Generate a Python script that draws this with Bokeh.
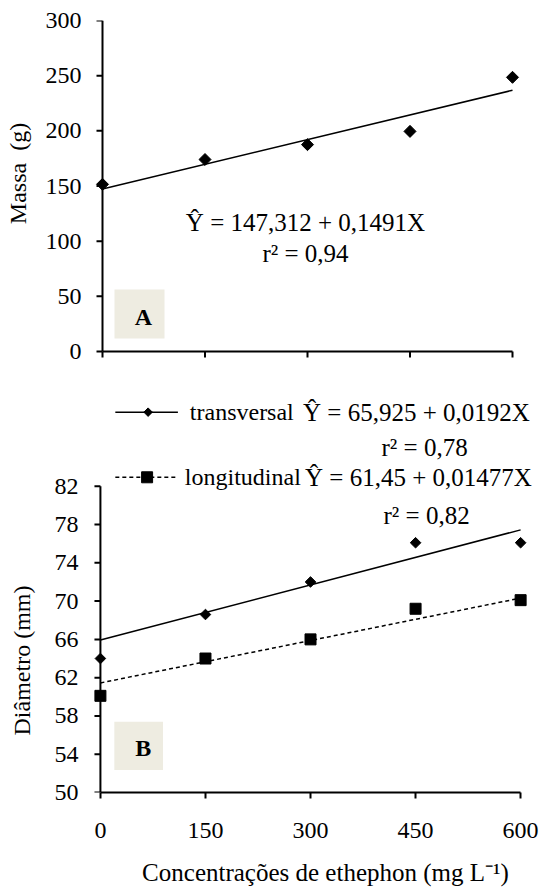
import numpy as np
from bokeh.plotting import figure
from bokeh.models import Range1d, FixedTicker, Label, BoxAnnotation
from bokeh.layouts import column
from bokeh.embed import file_html
from bokeh.resources import INLINE

# ---------------- data ----------------
doses = [0, 150, 300, 450, 600]
massa = [151.5, 174.0, 187.5, 199.5, 248.5]
transversal = [64.0, 68.6, 72.0, 76.1, 76.1]
longitudinal = [60.1, 64.0, 66.0, 69.2, 70.1]

massa_fit = (147.312, 0.1491)
transv_fit = (65.925, 0.0192)
longit_fit = (61.45, 0.01477)

eq_massa = "Ŷ = 147,312 + 0,1491X"
r2_massa = "r² = 0,94"
eq_transv = "Ŷ = 65,925 + 0,0192X"
r2_transv = "r² = 0,78"
eq_longit = "Ŷ = 61,45 + 0,01477X"
r2_longit = "r² = 0,82"

massa_ticks = [0, 50, 100, 150, 200, 250, 300]
diam_ticks = [50, 54, 58, 62, 66, 70, 74, 78, 82]
dose_ticks = [0, 150, 300, 450, 600]

FONT = "Liberation Serif"
FS = "24px"
FS_EQ = "25px"
NB = "\u00a0"
BOXFILL = "#EEECE1"
TICK = 6


def lin(p0, p1, v0, v1):
    return lambda p: v0 + (p - p0) * (v1 - v0) / (p1 - p0)


def style(p):
    p.outline_line_color = None
    p.xgrid.grid_line_color = None
    p.ygrid.grid_line_color = None
    p.background_fill_color = "white"
    p.border_fill_color = "white"
    for ax in (p.xaxis[0], p.yaxis[0]):
        ax.axis_line_color = "black"
        ax.axis_line_width = 2
        ax.major_tick_line_color = "black"
        ax.major_tick_line_width = 2
        ax.major_tick_out = TICK
        ax.major_tick_in = 0
        ax.minor_tick_line_color = None
        ax.major_label_text_font = FONT
        ax.major_label_text_font_size = FS
        ax.major_label_text_color = "black"
        ax.axis_label_text_font = FONT
        ax.axis_label_text_font_size = FS
        ax.axis_label_text_font_style = "normal"
        ax.axis_label_text_color = "black"
    # the y axis is drawn at x = 0 by glyphs; the panel axis only holds labels
    ya = p.yaxis[0]
    ya.axis_line_color = None
    ya.major_tick_line_color = None
    ya.major_tick_out = 0


def label(p, x, y, text, align="left", bold=False, size=FS_EQ):
    p.add_layout(Label(x=x, y=y, text=text, text_font=FONT, text_font_size=size,
                       text_align=align, text_baseline="middle", text_color="black",
                       text_font_style="bold" if bold else "normal"))


def y_axis_at_zero(p, ticks, sx):
    lo, hi = min(ticks), max(ticks)
    p.segment([0], [lo], [0], [hi], line_color="black", line_width=2)
    n = len(ticks)
    p.segment([-TICK / sx] * n, ticks, [0] * n, ticks, line_color="black", line_width=2)


# ---------------- top panel (A) ----------------
PAGE_TOP_H = 370
tx = lin(102, 512, 0, 600)
ty = lin(351, 20, 0, 300)
sx_t = (512 - 102) / 600
sy_t = (351 - 20) / 300
TL, TR, TB = 88, 537, 362
top = figure(width=545, height=PAGE_TOP_H,
             x_range=Range1d(tx(TL), tx(TR)), y_range=Range1d(ty(TB), 300),
             min_border_left=TL, min_border_right=545 - TR,
             min_border_top=20, min_border_bottom=PAGE_TOP_H - TB,
             output_backend="svg", toolbar_location=None)
style(top)
top.xaxis.visible = False
top.yaxis.ticker = FixedTicker(ticks=massa_ticks)
top.yaxis.major_label_standoff = 7
top.yaxis.axis_label = NB * 6 + "Massa" + NB * 2 + "(g)"
top.yaxis.axis_label_standoff = 12

y_axis_at_zero(top, massa_ticks, sx_t)
# x axis line at y = 0 with downward ticks
top.segment([min(dose_ticks)], [0], [max(dose_ticks)], [0], line_color="black", line_width=2)
nd = len(dose_ticks)
top.segment(dose_ticks, [0] * nd, dose_ticks, [-TICK / sy_t] * nd,
            line_color="black", line_width=2)

top.add_layout(BoxAnnotation(left=tx(114), right=tx(164), top=ty(289), bottom=ty(338),
                             fill_color=BOXFILL, fill_alpha=1, line_color=None))
label(top, tx(143), ty(316), "A", align="center", bold=True, size=FS)

xf = np.array([min(doses), max(doses)], dtype=float)
top.line(xf, massa_fit[0] + massa_fit[1] * xf, line_color="black", line_width=1.5)
top.scatter(doses, massa, marker="square", angle=np.pi / 4, size=8.5,
            fill_color="black", line_color="black")
label(top, tx(305), ty(222), eq_massa, align="center")
label(top, tx(305), ty(253), r2_massa, align="center")

# ---------------- bottom panel (B) ----------------
OFF = PAGE_TOP_H
BH = 888 - PAGE_TOP_H
bx = lin(100, 523, 0, 600)
by = lin(793, 486, 50, 82)
sx_b = (523 - 100) / 600
BL, BR, BT = 88, 540, 390
bot = figure(width=545, height=BH,
             x_range=Range1d(bx(BL), bx(BR)), y_range=Range1d(50, by(BT)),
             min_border_left=BL, min_border_right=545 - BR,
             min_border_top=BT - OFF, min_border_bottom=888 - 793,
             output_backend="svg", toolbar_location=None)
style(bot)
bot.yaxis.ticker = FixedTicker(ticks=diam_ticks)
bot.yaxis.major_label_standoff = 10
bot.yaxis.axis_label = "Diâmetro (mm)" + NB * 23
bot.yaxis.axis_label_standoff = 17
bot.xaxis.ticker = FixedTicker(ticks=dose_ticks)
bot.xaxis.bounds = (0, 600)
bot.xaxis.major_label_standoff = 24
bot.xaxis.axis_label = NB * 4 + "Concentrações de ethephon (mg L⁻¹)"
bot.xaxis.axis_label_text_font_size = "25px"
bot.xaxis.axis_label_standoff = 18

y_axis_at_zero(bot, diam_ticks, sx_b)

bot.add_layout(BoxAnnotation(left=bx(114), right=bx(163), top=by(722), bottom=by(770.5),
                             fill_color=BOXFILL, fill_alpha=1, line_color=None))
label(bot, bx(143), by(748), "B", align="center", bold=True, size=FS)

bot.line(xf, transv_fit[0] + transv_fit[1] * xf, line_color="black", line_width=1.5)
bot.line(xf, longit_fit[0] + longit_fit[1] * xf, line_color="black", line_width=1.5,
         line_dash="4 3")
bot.scatter(doses, transversal, marker="square", angle=np.pi / 4, size=7.5,
            fill_color="black", line_color="black")
bot.scatter(doses, longitudinal, marker="square", size=11,
            fill_color="black", line_color="black")

# legend rows
r1, r2 = 411.7, 477
bot.line([bx(115), bx(178)], [by(r1), by(r1)], line_color="black", line_width=1.5)
bot.scatter([bx(148)], [by(r1)], marker="square", angle=np.pi / 4, size=6,
            fill_color="black", line_color="black")
bot.line([bx(115), bx(178)], [by(r2), by(r2)], line_color="black", line_width=1.5,
         line_dash="4 3")
bot.scatter([bx(147)], [by(r2)], marker="square", size=11,
            fill_color="black", line_color="black")
label(bot, bx(190), by(r1), "transversal", size=FS)
label(bot, bx(304), by(r1), eq_transv)
label(bot, bx(383), by(447), r2_transv)
label(bot, bx(185), by(r2), "longitudinal", size=FS)
label(bot, bx(306), by(r2), eq_longit)
label(bot, bx(385), by(515), r2_longit)

layout = column(top, bot, spacing=0)
open("out.html", "w").write(file_html(layout, INLINE))
